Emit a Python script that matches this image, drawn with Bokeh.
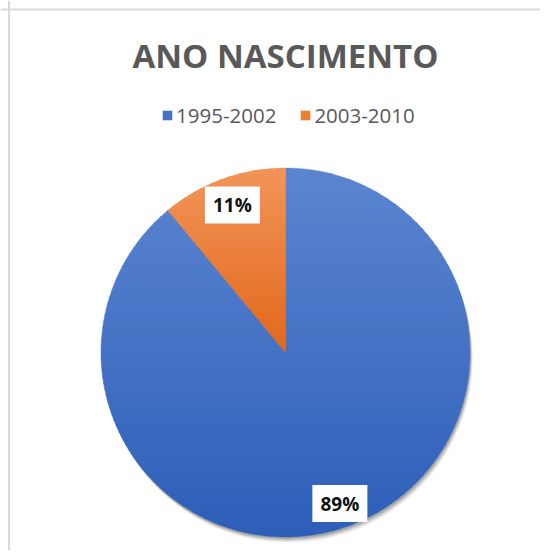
import numpy as np
from bokeh.plotting import figure
from bokeh.models import ColumnDataSource, Legend, LegendItem, Span, Range1d
from bokeh.core.properties import value
from bokeh.embed import file_html
from bokeh.resources import INLINE

# ---- data ----
title_text = "ANO NASCIMENTO"
categories = ["1995-2002", "2003-2010"]
shares = [89, 11]
colors = ["#4472C4", "#ED7D31"]
grad_top = ["#5B85D0", "#F2955A"]
grad_bottom = ["#2D5FB9", "#E2681A"]
label_radius = [0.87, 0.85]

W, H = 540, 550
p = figure(width=W, height=H, output_backend="svg", toolbar_location=None,
           x_range=Range1d(0, W), y_range=Range1d(0, H), min_border=0)
p.axis.visible = False
p.grid.visible = False
p.outline_line_color = None
p.background_fill_color = "white"

cx, cy, R = 285, 198, 184.5

vals = np.array(shares, dtype=float)
frac = vals / vals.sum()
ends = np.pi / 2 - 2 * np.pi * np.cumsum(frac)
starts = np.concatenate([[np.pi / 2], ends[:-1]])
mids = (starts + ends) / 2
lr = np.array(label_radius) * R


def hex2rgb(h):
    h = h.lstrip("#")
    return np.array([int(h[i:i + 2], 16) for i in (0, 2, 4)], dtype=float)


def rgb2hex(c):
    c = np.clip(np.round(c), 0, 255).astype(int)
    return "#%02x%02x%02x" % tuple(c)


def clip_half(poly, yc, keep_above):
    out = []
    n = len(poly)
    for i in range(n):
        a = poly[i]
        b = poly[(i + 1) % n]
        ina = a[1] >= yc if keep_above else a[1] <= yc
        inb = b[1] >= yc if keep_above else b[1] <= yc
        if ina:
            out.append(a)
        if ina != inb:
            t = (yc - a[1]) / (b[1] - a[1])
            out.append((a[0] + t * (b[0] - a[0]), yc))
    return out


# soft shadow
for off, a in [(6, 0.04), (5, 0.06), (4, 0.08), (3, 0.10), (2, 0.12)]:
    p.circle(x=[cx + off * 0.5], y=[cy - off], radius=R, fill_color="black",
             fill_alpha=a, line_color=None)

# slices with vertical gradient (built from horizontal bands)
NB = 60
for s, e, ct, cb in zip(starts, ends, grad_top, grad_bottom):
    ang = np.linspace(s, e, 400)
    poly = [(cx, cy)] + [(cx + R * np.cos(t), cy + R * np.sin(t)) for t in ang]
    ys_all = [pt[1] for pt in poly]
    ymin, ymax = min(ys_all), max(ys_all)
    edges = np.linspace(ymin, ymax, NB + 1)
    xs, ys, cols = [], [], []
    top, bot = hex2rgb(ct), hex2rgb(cb)
    for i in range(NB):
        band = clip_half(poly, edges[i], True)
        band = clip_half(band, edges[i + 1] + 0.6, False) if band else band
        if len(band) < 3:
            continue
        t = (0.5 * (edges[i] + edges[i + 1]) - ymin) / (ymax - ymin)
        xs.append([pt[0] for pt in band])
        ys.append([pt[1] for pt in band])
        cols.append(rgb2hex(bot + (top - bot) * t))
    p.patches(xs="xs", ys="ys", fill_color="c", line_color="c", line_width=0.4,
              source=ColumnDataSource(dict(xs=xs, ys=ys, c=cols)))

src = ColumnDataSource(dict(
    lx=cx + lr * np.cos(mids), ly=cy + lr * np.sin(mids),
    lab=[f"{v:.0f}%" for v in frac * 100],
))

# data labels
p.rect(x="lx", y="ly", width=55, height=37, fill_color="white",
       line_color=None, source=src)
p.text(x="lx", y="ly", text="lab", text_align="center", text_baseline="middle",
       text_font=value("Open Sans"), text_font_style="bold",
       text_font_size="19px", text_color="#111111", source=src)

# title
p.text(x=[cx], y=[H - 55], text=[title_text], text_align="center",
       text_baseline="middle", text_font=value("Open Sans"),
       text_font_style="bold", text_font_size="33px", text_color="#595959")

# legend
items = []
for c, col in zip(categories, colors):
    r = p.quad(left=[np.nan], right=[np.nan], top=[np.nan], bottom=[np.nan],
               fill_color=col, line_color=None)
    items.append(LegendItem(label=c, renderers=[r]))
legend = Legend(items=items, orientation="horizontal", location=(161, 421),
                label_text_font="Open Sans", label_text_font_size="20.5px",
                label_text_color="#595959", glyph_width=12, glyph_height=12,
                label_standoff=3, spacing=23, padding=0, margin=0,
                border_line_color=None, background_fill_alpha=0)
p.add_layout(legend, "center")

# chart border (top and left visible)
p.add_layout(Span(location=H - 9, dimension="width", line_color="#d9d9d9", line_width=2))
p.add_layout(Span(location=8.5, dimension="height", line_color="#d9d9d9", line_width=2))

open("out.html", "w").write(file_html(p, INLINE))
